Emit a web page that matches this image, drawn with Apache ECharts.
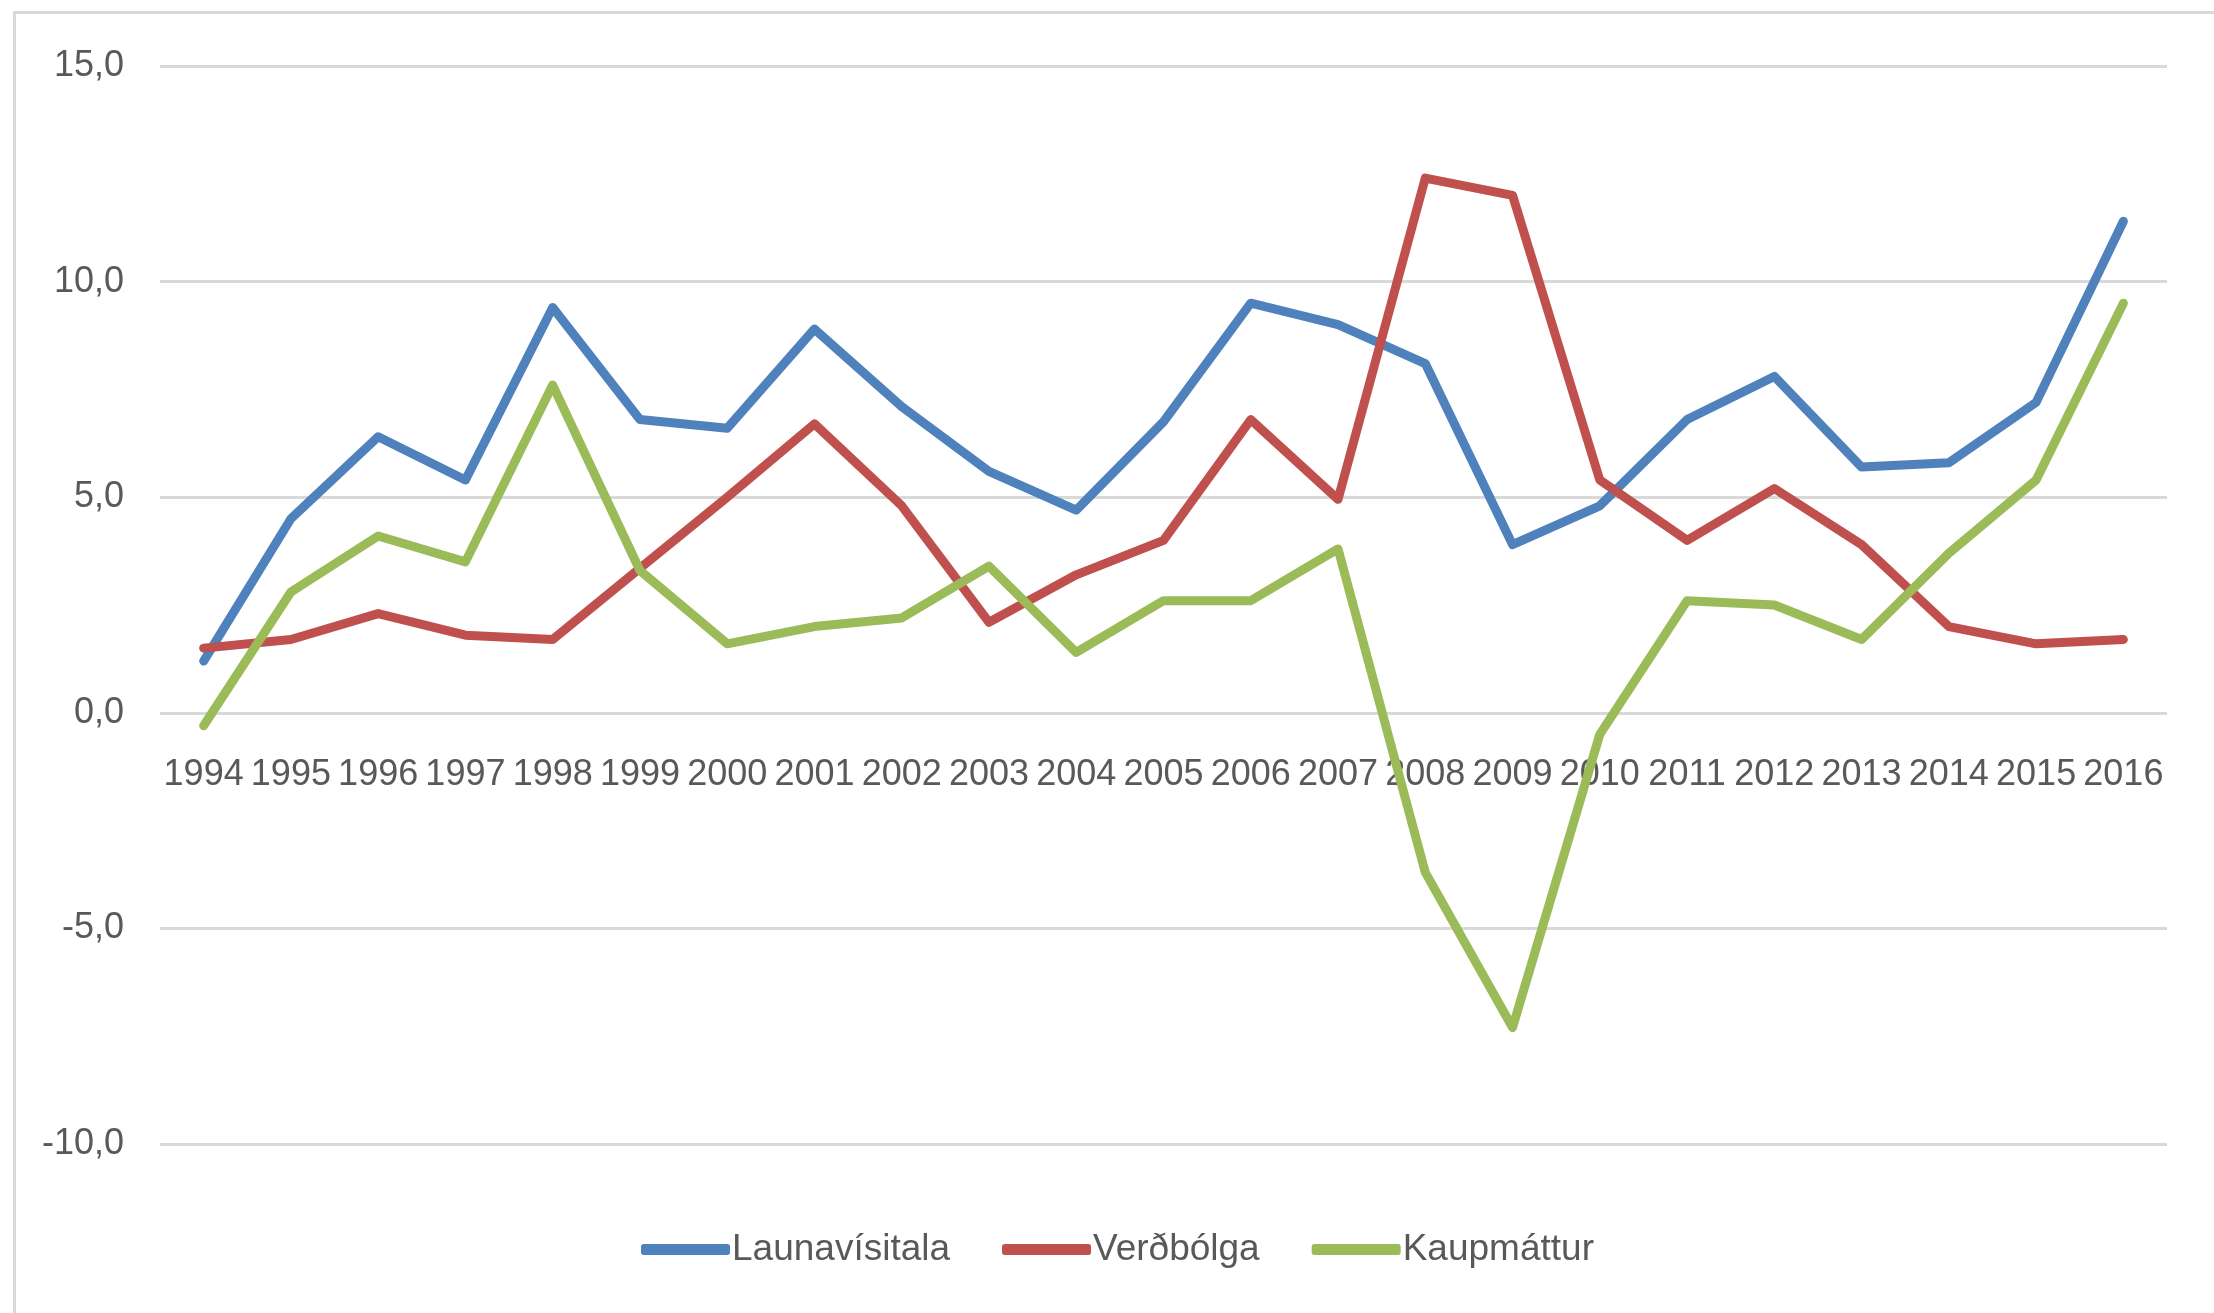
<!DOCTYPE html>
<html>
<head>
<meta charset="utf-8">
<script src="https://cdn.jsdelivr.net/npm/echarts@6/dist/echarts.min.js"></script>
<style>
  html, body { margin: 0; padding: 0; background: #fff; overflow: hidden; }
  .frame {
    position: absolute; left: 13px; top: 11px; width: 2400px; height: 1500px;
    border: 3px solid #d9d9d9; pointer-events: none;
  }
  #chart { position: absolute; left: 0; top: 0; width: 2214px; height: 1313px; }
</style>
</head>
<body>
<div class="frame"></div>
<div id="chart"></div>
<script>
  // ár
  const years = ['1994', '1995', '1996', '1997', '1998', '1999', '2000', '2001', '2002', '2003', '2004', '2005',
    '2006', '2007', '2008', '2009', '2010', '2011', '2012', '2013', '2014', '2015', '2016'];

  const launavisitala = [1.2, 4.5, 6.4, 5.4, 9.4, 6.8, 6.6, 8.9, 7.1, 5.6, 4.7, 6.75,
    9.5, 9.0, 8.1, 3.9, 4.8, 6.8, 7.8, 5.7, 5.8, 7.2, 11.4];
  const verdbolga = [1.5, 1.7, 2.3, 1.8, 1.7, 3.35, 5.0, 6.7, 4.8, 2.1, 3.2, 4.0,
    6.8, 4.95, 12.4, 12.0, 5.4, 4.0, 5.2, 3.9, 2.0, 1.6, 1.7];
  const kaupmattur = [-0.3, 2.8, 4.1, 3.5, 7.6, 3.3, 1.6, 2.0, 2.2, 3.4, 1.4, 2.6,
    2.6, 3.8, -3.7, -7.3, -0.5, 2.6, 2.5, 1.7, 3.7, 5.4, 9.5];

  const yTicks = [-10, -5, 0, 5, 10, 15];

  const textColor = '#595959';
  const gridColor = '#d9d9d9';
  const font = "'Liberation Sans', Arial, sans-serif";

  // plot area
  const plotTop = 66, plotBottom = 169, H = 1313;
  const yMin = yTicks[0], yMax = yTicks[yTicks.length - 1];
  // the year labels sit under the 0 line, as in Excel: a second grid ends at 0
  const zeroY = plotTop + (H - plotTop - plotBottom) * yMax / (yMax - yMin);

  const chart = echarts.init(document.getElementById('chart'));

  function line(name, data, color) {
    return {
      name: name,
      type: 'line',
      data: data,
      symbol: 'none',
      lineStyle: { color: color, width: 9, cap: 'round', join: 'round' },
      itemStyle: { color: color },
      animation: false
    };
  }

  chart.setOption({
    backgroundColor: 'transparent',
    grid: [
      { left: 160, right: 47, top: plotTop, bottom: plotBottom },
      { left: 160, right: 47, top: plotTop, height: zeroY - plotTop }
    ],
    legend: {
      left: 636,
      top: 1226,
      icon: 'roundRect',
      itemWidth: 89,
      itemHeight: 11,
      itemGap: 52,
      textStyle: { color: textColor, fontSize: 37, fontFamily: font, padding: [0, 0, 0, -3] },
      data: ['Launavísitala', 'Verðbólga', 'Kaupmáttur']
    },
    xAxis: [{
      type: 'category',
      data: years,
      boundaryGap: true,
      axisLine: { show: false },
      axisTick: { show: false },
      axisLabel: { show: false }
    }, {
      gridIndex: 1,
      type: 'category',
      data: years,
      boundaryGap: true,
      axisLine: { show: false },
      axisTick: { show: false },
      splitLine: { show: false },
      axisLabel: { color: textColor, fontSize: 36, fontFamily: font, margin: 44, interval: 0 }
    }],
    yAxis: [{
      type: 'value',
      min: yMin,
      max: yMax,
      interval: 5,
      axisLine: { show: false },
      axisTick: { show: false },
      splitLine: { lineStyle: { color: gridColor, width: 3 } },
      axisLabel: {
        color: textColor, fontSize: 36, fontFamily: font, margin: 36,
        formatter: v => v.toFixed(1).replace('.', ',')
      }
    }, {
      gridIndex: 1,
      type: 'value',
      show: false,
      min: 0,
      max: yMax
    }],
    series: [
      line('Launavísitala', launavisitala, '#4f81bd'),
      line('Verðbólga', verdbolga, '#c0504d'),
      line('Kaupmáttur', kaupmattur, '#9bbb59')
    ]
  });
</script>
</body>
</html>
